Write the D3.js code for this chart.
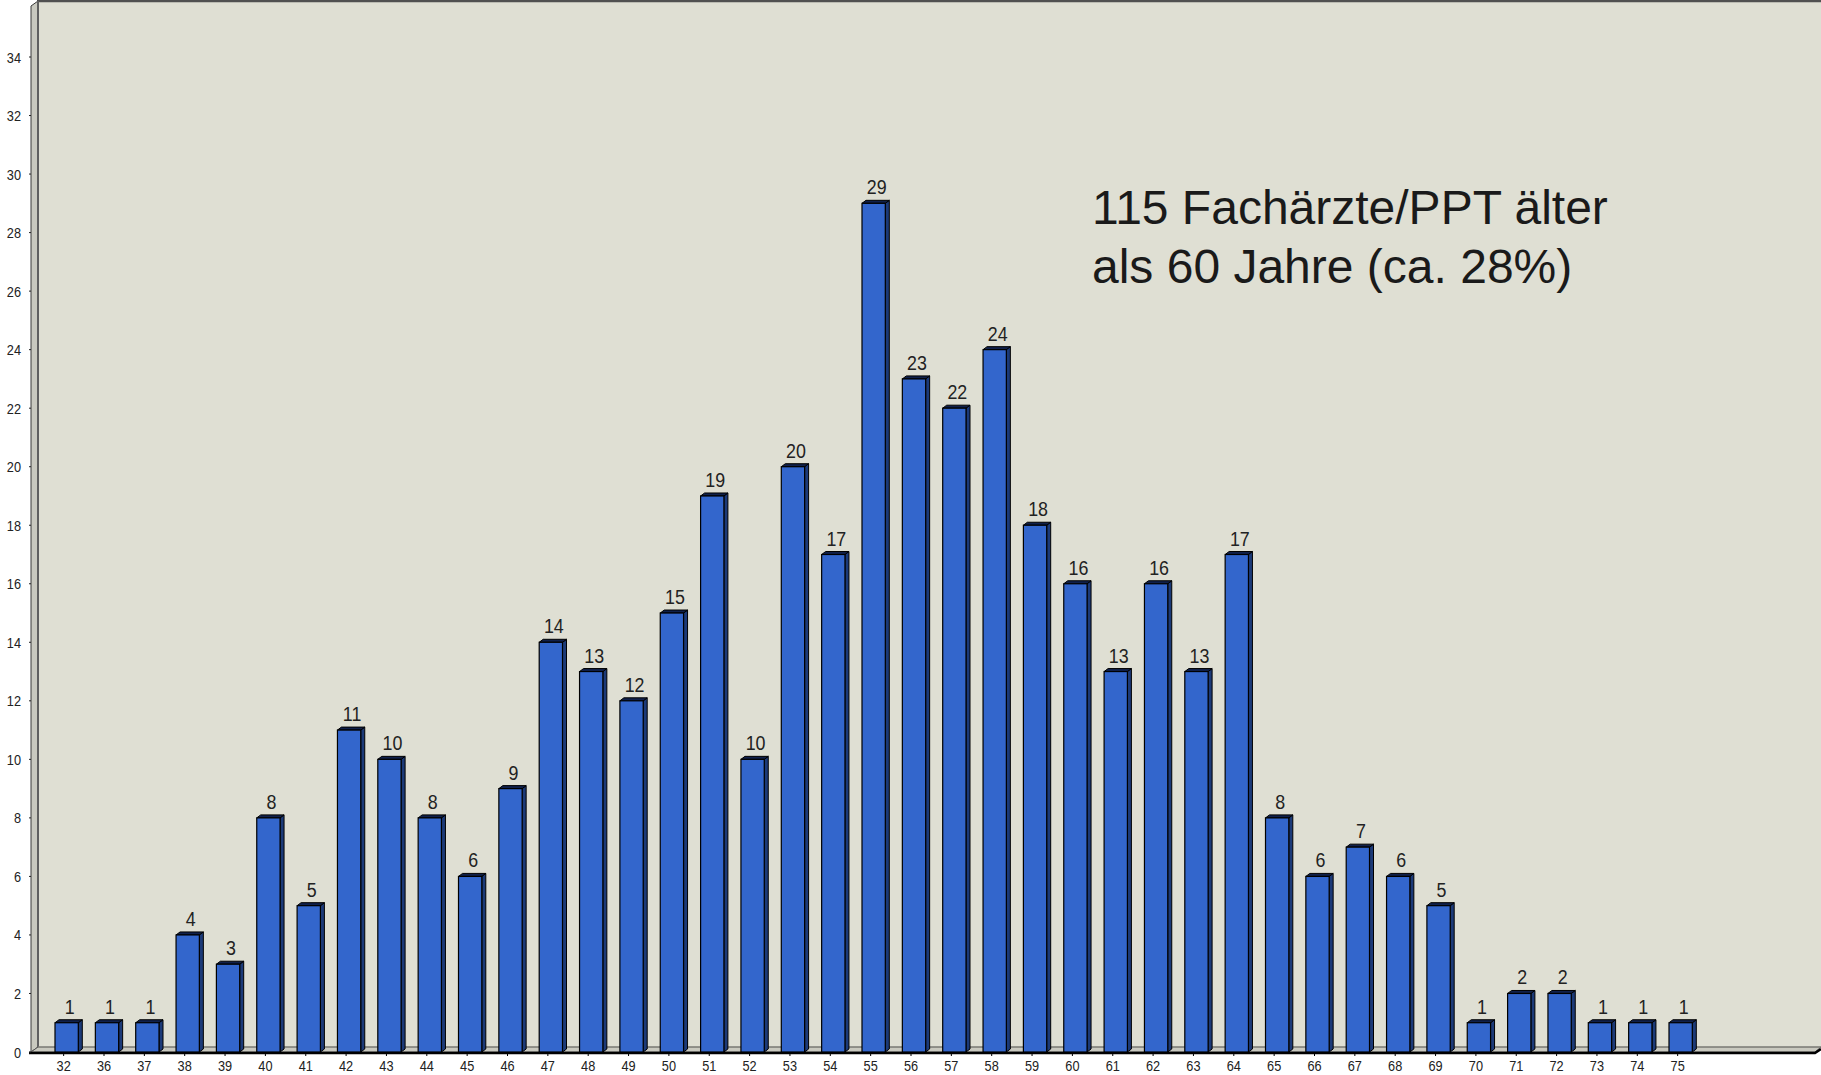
<!DOCTYPE html>
<html><head><meta charset="utf-8">
<script src="https://cdn.jsdelivr.net/npm/d3@7"></script>
<style>
html,body{margin:0;padding:0;background:#ffffff;}
svg{display:block;}
</style></head>
<body>
<svg id="chart" width="1821" height="1075"></svg>
<script>
const categories = ["32","36","37","38","39","40","41","42","43","44","45","46","47","48","49","50","51","52","53","54","55","56","57","58","59","60","61","62","63","64","65","66","67","68","69","70","71","72","73","74","75"];
const values = [1,1,1,4,3,8,5,11,10,8,6,9,14,13,12,15,19,10,20,17,29,23,22,24,18,16,13,16,13,17,8,6,7,6,5,1,2,2,1,1,1];
const yTicks = [0,2,4,6,8,10,12,14,16,18,20,22,24,26,28,30,32,34];
const annotation = ["115 Fachärzte/PPT älter", "als 60 Jahre (ca. 28%)"];

const W = 1821, H = 1075;
const svg = d3.select("#chart");
const sans = "'Liberation Sans',Arial,Helvetica,sans-serif";
const sx = 0.85;

const baseY = 1052, wallL = 31, wallR = 38, topY = 1, depthX = 6, depthY = 5;
const bdx = 4, bdy = 3;

const y = d3.scaleLinear().domain([0, 34]).range([baseY, 57]);
const bw = 23.3, step = 40.35;
const x = d3.scaleBand().domain(categories)
  .range([55, 55 + step * (categories.length - 1) + bw])
  .paddingInner(1 - bw / step).paddingOuter(0);

function narrowText(g, tx, ty, size, anchor, txt) {
  return g.append("text").attr("transform", `translate(${tx},${ty}) scale(${sx},1)`)
    .attr("text-anchor", anchor).attr("font-family", sans).attr("font-size", size)
    .attr("fill", "#222").text(txt);
}

// plot background
svg.append("rect").attr("x", wallR).attr("y", topY).attr("width", W - wallR).attr("height", baseY - depthY - topY)
  .attr("fill", "#dfdfd3");
// top border
svg.append("line").attr("x1", wallR - 1).attr("x2", W).attr("y1", 1).attr("y2", 1)
  .attr("stroke", "#505050").attr("stroke-width", 2.5);
// left wall
svg.append("path")
  .attr("d", `M${wallL},${topY + depthY} L${wallR},${topY} L${wallR},${baseY - depthY} L${wallL},${baseY} Z`)
  .attr("fill", "#c9c9bf").attr("stroke", "#3a3a3a").attr("stroke-width", 1);
svg.append("line").attr("x1", wallR).attr("x2", wallR).attr("y1", topY).attr("y2", baseY - depthY)
  .attr("stroke", "#606060").attr("stroke-width", 2);
// floor
svg.append("path")
  .attr("d", `M${wallL},${baseY} L${wallR},${baseY - depthY} L${W},${baseY - depthY} L${W - depthX},${baseY} Z`)
  .attr("fill", "#c9c9bf").attr("stroke", "#555").attr("stroke-width", 1);
svg.append("line").attr("x1", wallR).attr("x2", W).attr("y1", baseY - depthY).attr("y2", baseY - depthY)
  .attr("stroke", "#8a8a82").attr("stroke-width", 1);
// base black line
svg.append("path")
  .attr("d", `M${wallL - 2},${baseY + 1} L${W - depthX},${baseY + 1} L${W},${baseY - 3}`)
  .attr("fill", "none").attr("stroke", "#000").attr("stroke-width", 2.5);

// y ticks
const yg = svg.append("g");
yTicks.forEach(t => {
  yg.append("line").attr("x1", wallL - 2).attr("x2", wallL).attr("y1", y(t)).attr("y2", y(t))
    .attr("stroke", "#222").attr("stroke-width", 1);
  narrowText(yg, 21, y(t) + 5.5, 15, "end", t);
});

// bars
const bars = svg.append("g");
categories.forEach((c, i) => {
  const v = values[i];
  const x0 = x(c), x1 = x0 + x.bandwidth(), yt = y(v);
  bars.append("path")
    .attr("d", `M${x1},${yt} L${x1 + bdx},${yt - bdy} L${x1 + bdx},${baseY - bdy} L${x1},${baseY} Z`)
    .attr("fill", "#1c3a78").attr("stroke", "#000").attr("stroke-width", 1);
  bars.append("path")
    .attr("d", `M${x0},${yt} L${x0 + bdx},${yt - bdy} L${x1 + bdx},${yt - bdy} L${x1},${yt} Z`)
    .attr("fill", "#10204a").attr("stroke", "#000").attr("stroke-width", 1);
  bars.append("rect").attr("x", x0).attr("y", yt).attr("width", x.bandwidth()).attr("height", baseY - yt)
    .attr("fill", "#3366cc").attr("stroke", "#000").attr("stroke-width", 1.2);
  narrowText(bars, x0 + x.bandwidth() / 2 + 3, yt - 9, 21, "middle", v);
  bars.append("line").attr("x1", x0 + x.bandwidth() / 2 - 3).attr("x2", x0 + x.bandwidth() / 2 - 3)
    .attr("y1", baseY + 1).attr("y2", baseY + 4).attr("stroke", "#000");
  narrowText(bars, x0 + x.bandwidth() / 2 - 3, 1071, 15, "middle", c);
});

// annotation
annotation.forEach((line, i) => {
  svg.append("text").attr("x", 1092).attr("y", 224 + i * 59)
    .attr("font-family", sans).attr("font-size", 48).attr("fill", "#1a1a1a").text(line);
});
</script>
</body></html>
